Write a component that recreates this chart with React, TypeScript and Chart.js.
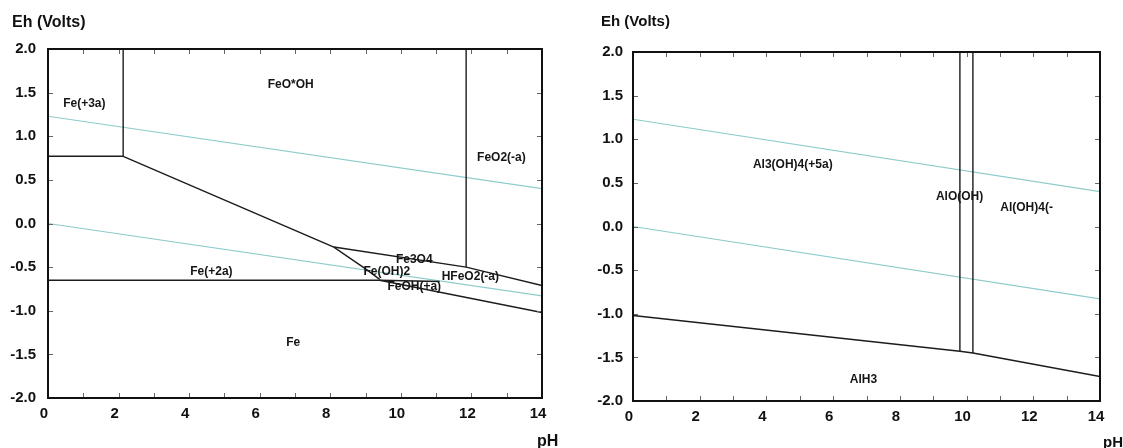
import React, { useEffect, useRef } from "react";
import { Chart, registerables } from "chart.js";

Chart.register(...registerables);

// ---------- axes ----------
const PH_MIN = 0;
const PH_MAX = 14;
const EH_MIN = -2;
const EH_MAX = 2;
const PH_LABEL_STEP = 2;
const EH_LABEL_STEP = 0.5;
const PH_MINOR_TICKS = [0, 1, 2, 3, 4, 5, 6, 7, 8, 9, 10, 11, 12, 13, 14];
const EH_MINOR_TICKS = [-2, -1.5, -1, -0.5, 0, 0.5, 1, 1.5, 2];

// ---------- water stability lines (both diagrams) ----------
const waterUpperPH = [0, 14];
const waterUpperEh = [1.23, 0.4];
const waterLowerPH = [0, 14];
const waterLowerEh = [0.0, -0.83];

// ---------- Fe diagram boundaries ----------
const feFe3Fe2PH = [0, 2.13];
const feFe3Fe2Eh = [0.77, 0.77];
const feFe3FeoohPH = [2.13, 2.13];
const feFe3FeoohEh = [0.77, 2.0];
const feFe2OxidePH = [2.13, 8.1, 9.0, 9.4];
const feFe2OxideEh = [0.77, -0.27, -0.52, -0.64];
const feFe2MetalPH = [0, 9.4, 11.1];
const feFe2MetalEh = [-0.65, -0.65, -0.665];
const feFeoohFeo2PH = [11.85, 11.85];
const feFeoohFeo2Eh = [2.0, -0.5];
const feFe3o4TopPH = [8.1, 11.85, 14];
const feFe3o4TopEh = [-0.27, -0.5, -0.71];
const feMetalLowerPH = [9.4, 14];
const feMetalLowerEh = [-0.65, -1.02];

const feLabelText = ["Fe(+3a)", "FeO*OH", "FeO2(-a)", "Fe3O4", "Fe(+2a)", "Fe(OH)2", "HFeO2(-a)", "FeOH(+a)", "Fe"];
const feLabelPH = [1.03, 6.88, 12.85, 10.38, 4.63, 9.6, 11.97, 10.38, 6.95];
const feLabelEh = [1.37, 1.59, 0.75, -0.415, -0.55, -0.55, -0.61, -0.72, -1.37];

// ---------- Al diagram boundaries ----------
const alLowerPH = [0, 9.8, 10.19, 14];
const alLowerEh = [-1.02, -1.43, -1.45, -1.72];
const alLeftVertPH = [9.8, 9.8];
const alLeftVertEh = [2.0, -1.43];
const alRightVertPH = [10.19, 10.19];
const alRightVertEh = [2.0, -1.45];

const alLabelText = ["Al3(OH)4(+5a)", "AlO(OH)", "Al(OH)4(-", "AlH3"];
const alLabelPH = [4.79, 9.79, 11.8, 6.91];
const alLabelEh = [0.713, 0.344, 0.218, -1.76];

const FONT = "'Liberation Sans', Arial, Helvetica, sans-serif";
const BOUNDARY_COLOR = "#1c1c1c";
const WATER_COLOR = "#8ecbcb";

type Series = { ph: number[]; eh: number[]; water?: boolean };

function toPoints(ph: number[], eh: number[]) {
  return ph.map((x, i) => ({ x, y: eh[i] }));
}

type PanelProps = {
  width: number;
  height: number;
  left: number;
  series: Series[];
  labels: { text: string[]; ph: number[]; eh: number[] };
  padTop: number;
  padRight: number;
  yAxisWidth: number;
  xAxisHeight: number;
  yTickPad: number;
  titleDx: number;
  titleY: number;
  titleSize: number;
  tickSize: number;
  phDx: number;
  phY: number;
};

function Panel(p: PanelProps) {
  const ref = useRef<HTMLCanvasElement | null>(null);

  useEffect(() => {
    const canvas = ref.current;
    if (!canvas) return;

    const datasets = p.series.map((s) => ({
      data: toPoints(s.ph, s.eh),
      showLine: true,
      pointRadius: 0,
      borderColor: s.water ? WATER_COLOR : BOUNDARY_COLOR,
      borderWidth: s.water ? 1.1 : 1.4,
      fill: false,
      tension: 0,
      order: s.water ? 2 : 1,
    }));

    const overlay = {
      id: "overlay",
      afterDatasetsDraw(chart: any) {
        const { ctx } = chart;
        const xs = chart.scales.x;
        const ys = chart.scales.y;
        ctx.save();
        ctx.fillStyle = "#151515";
        ctx.font = `bold 12px ${FONT}`;
        ctx.textAlign = "center";
        ctx.textBaseline = "middle";
        p.labels.text.forEach((t, i) => {
          ctx.fillText(t, xs.getPixelForValue(p.labels.ph[i]), ys.getPixelForValue(p.labels.eh[i]));
        });
        ctx.restore();
      },
      afterDraw(chart: any) {
        const { ctx, chartArea } = chart;
        const xs = chart.scales.x;
        const ys = chart.scales.y;
        const { left, right, top, bottom } = chartArea;
        ctx.save();
        // inward tick marks
        ctx.strokeStyle = "#666";
        ctx.lineWidth = 1;
        ctx.beginPath();
        PH_MINOR_TICKS.forEach((v) => {
          const x = Math.round(xs.getPixelForValue(v)) + 0.5;
          ctx.moveTo(x, top);
          ctx.lineTo(x, top + 5);
          ctx.moveTo(x, bottom);
          ctx.lineTo(x, bottom - 5);
        });
        EH_MINOR_TICKS.forEach((v) => {
          const y = Math.round(ys.getPixelForValue(v)) + 0.5;
          ctx.moveTo(left, y);
          ctx.lineTo(left + 5, y);
          ctx.moveTo(right, y);
          ctx.lineTo(right - 5, y);
        });
        ctx.stroke();
        // frame
        ctx.strokeStyle = "#111";
        ctx.lineWidth = 2;
        ctx.strokeRect(left, top, right - left, bottom - top);
        // axis titles
        ctx.fillStyle = "#111";
        ctx.font = `bold ${p.titleSize}px ${FONT}`;
        ctx.textAlign = "left";
        ctx.textBaseline = "middle";
        ctx.fillText("Eh (Volts)", left + p.titleDx, p.titleY);
        ctx.fillText("pH", right + p.phDx, p.phY);
        ctx.restore();
      },
    };

    const tickFont = { family: FONT, size: p.tickSize, weight: "bold" as const };

    const chart = new Chart(canvas, {
      type: "scatter",
      data: { datasets },
      options: {
        responsive: false,
        animation: false,
        events: [],
        layout: { padding: { left: 0, top: p.padTop, right: p.padRight, bottom: 0 } },
        plugins: { legend: { display: false }, tooltip: { enabled: false }, title: { display: false } },
        scales: {
          x: {
            type: "linear",
            min: PH_MIN,
            max: PH_MAX,
            grid: { display: false, drawTicks: false },
            border: { display: false },
            ticks: {
              stepSize: PH_LABEL_STEP,
              color: "#111",
              font: tickFont,
              padding: 7,
              labelOffset: -4,
              maxRotation: 0,
              autoSkip: false,
              callback: (v: any) => String(v),
            },
            afterFit: (s: any) => {
              s.height = p.xAxisHeight;
            },
          },
          y: {
            type: "linear",
            min: EH_MIN,
            max: EH_MAX,
            grid: { display: false, drawTicks: false },
            border: { display: false },
            ticks: {
              stepSize: EH_LABEL_STEP,
              color: "#111",
              font: tickFont,
              padding: p.yTickPad,
              autoSkip: false,
              callback: (v: any) => Number(v).toFixed(1),
            },
            afterFit: (s: any) => {
              s.width = p.yAxisWidth;
            },
          },
        },
      },
      plugins: [overlay],
    } as any);

    return () => chart.destroy();
  }, []);

  return (
    <canvas
      ref={ref}
      width={p.width}
      height={p.height}
      style={{ position: "absolute", left: p.left, top: 0, width: p.width, height: p.height }}
    />
  );
}

export default function App() {
  const feSeries: Series[] = [
    { ph: waterUpperPH, eh: waterUpperEh, water: true },
    { ph: waterLowerPH, eh: waterLowerEh, water: true },
    { ph: feFe3Fe2PH, eh: feFe3Fe2Eh },
    { ph: feFe3FeoohPH, eh: feFe3FeoohEh },
    { ph: feFe2OxidePH, eh: feFe2OxideEh },
    { ph: feFe2MetalPH, eh: feFe2MetalEh },
    { ph: feFeoohFeo2PH, eh: feFeoohFeo2Eh },
    { ph: feFe3o4TopPH, eh: feFe3o4TopEh },
    { ph: feMetalLowerPH, eh: feMetalLowerEh },
  ];
  const alSeries: Series[] = [
    { ph: waterUpperPH, eh: waterUpperEh, water: true },
    { ph: waterLowerPH, eh: waterLowerEh, water: true },
    { ph: alLowerPH, eh: alLowerEh },
    { ph: alLeftVertPH, eh: alLeftVertEh },
    { ph: alRightVertPH, eh: alRightVertEh },
  ];

  return (
    <div style={{ position: "absolute", left: 0, top: 0, width: 1123, height: 448, background: "#fff", overflow: "hidden" }}>
      <Panel
        width={560}
        height={448}
        left={0}
        series={feSeries}
        labels={{ text: feLabelText, ph: feLabelPH, eh: feLabelEh }}
        padTop={49}
        padRight={18}
        yAxisWidth={48}
        xAxisHeight={50}
        yTickPad={12}
        titleDx={-36}
        titleY={23}
        titleSize={16}
        tickSize={15}
        phDx={-5}
        phY={442}
      />
      <Panel
        width={563}
        height={448}
        left={560}
        series={alSeries}
        labels={{ text: alLabelText, ph: alLabelPH, eh: alLabelEh }}
        padTop={52}
        padRight={23}
        yAxisWidth={73}
        xAxisHeight={47}
        yTickPad={10}
        titleDx={-32}
        titleY={22}
        titleSize={15}
        tickSize={15}
        phDx={3}
        phY={443}
      />
    </div>
  );
}
